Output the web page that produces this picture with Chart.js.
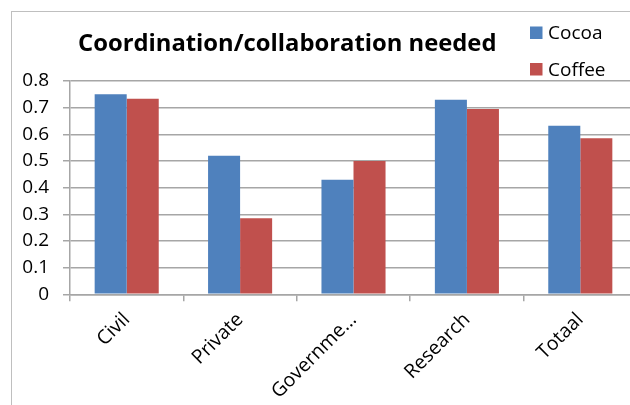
<!DOCTYPE html>
<html>
<head>
<meta charset="utf-8">
<script src="https://cdn.jsdelivr.net/npm/chart.js@4.4.1/dist/chart.umd.min.js"></script>
<style>
  html, body { margin: 0; padding: 0; background: #fff; overflow: hidden; }
  #wrap { position: relative; width: 630px; height: 405px; overflow: hidden; }
  #frame { position: absolute; left: 11px; top: 11px; width: 700px; height: 500px;
           border: 1px solid #bfbfbf; box-sizing: border-box; }
  #chart { position: absolute; left: 0; top: 0; }
</style>
</head>
<body>
<div id="wrap">
  <div id="frame"></div>
  <canvas id="chart" width="640" height="405"></canvas>
</div>
<script>
const categories = ['Civil', 'Private', 'Governme...', 'Research', 'Totaal'];
const seriesNames = ['Cocoa', 'Coffee'];
const cocoa = [0.75, 0.52, 0.43, 0.73, 0.632];
const coffee = [0.733, 0.285, 0.50, 0.695, 0.585];
const yTickLabels = ['0', '0.1', '0.2', '0.3', '0.4', '0.5', '0.6', '0.7', '0.8'];
const titleText = 'Coordination/collaboration needed';

const BLUE = '#4F81BD';
const RED = '#C0504D';
const GRID = '#a6a6a6';
const FONT = "'Open Sans', 'DejaVu Sans', sans-serif";

// Title and legend block drawn above the plot area
const headerPlugin = {
  id: 'header',
  afterDraw(chart) {
    const ctx = chart.ctx;
    ctx.save();
    ctx.textBaseline = 'alphabetic';
    ctx.textAlign = 'left';
    ctx.fillStyle = '#000';
    ctx.font = 'bold 23.8px ' + FONT;
    ctx.fillText(titleText, 78, 51);
    ctx.font = '19px ' + FONT;
    chart.data.datasets.forEach((ds, i) => {
      const base = 39 + i * 36.5;
      ctx.fillStyle = ds.backgroundColor;
      ctx.fillRect(530, base - 12.5, 12.5, 12.5);
      ctx.fillStyle = '#000';
      ctx.fillText(ds.label, 548, base);
    });
    ctx.restore();
  }
};

new Chart(document.getElementById('chart'), {
  type: 'bar',
  data: {
    labels: categories,
    datasets: [
      { label: seriesNames[0], data: cocoa, backgroundColor: BLUE },
      { label: seriesNames[1], data: coffee, backgroundColor: RED }
    ]
  },
  options: {
    responsive: false,
    animation: false,
    devicePixelRatio: 1,
    layout: { padding: { top: 81, right: 3, left: 0, bottom: 0 } },
    datasets: { bar: { barPercentage: 1, categoryPercentage: 0.565 } },
    plugins: {
      legend: { display: false },
      title: { display: false },
      tooltip: { enabled: false }
    },
    scales: {
      x: {
        afterFit(scale) { scale.height = 110.7; },
        grid: { display: true, drawOnChartArea: false, drawTicks: true, tickLength: 7,
                color: GRID, lineWidth: 1.5, offset: true },
        border: { display: true, color: GRID, width: 1.5 },
        ticks: { color: '#000', font: { family: FONT, size: 19.5 },
                 maxRotation: 45, minRotation: 45, padding: 7 }
      },
      y: {
        min: 0, max: 0.8,
        afterFit(scale) { scale.width = 70; },
        grid: { color: GRID, lineWidth: 1.5, tickLength: 7, drawTicks: true },
        border: { display: true, color: GRID, width: 1.5 },
        ticks: {
          stepSize: 0.1,
          padding: 14,
          color: '#000',
          font: { family: FONT, size: 19 },
          callback: (v, i) => yTickLabels[i]
        }
      }
    }
  },
  plugins: [headerPlugin]
});
</script>
</body>
</html>
